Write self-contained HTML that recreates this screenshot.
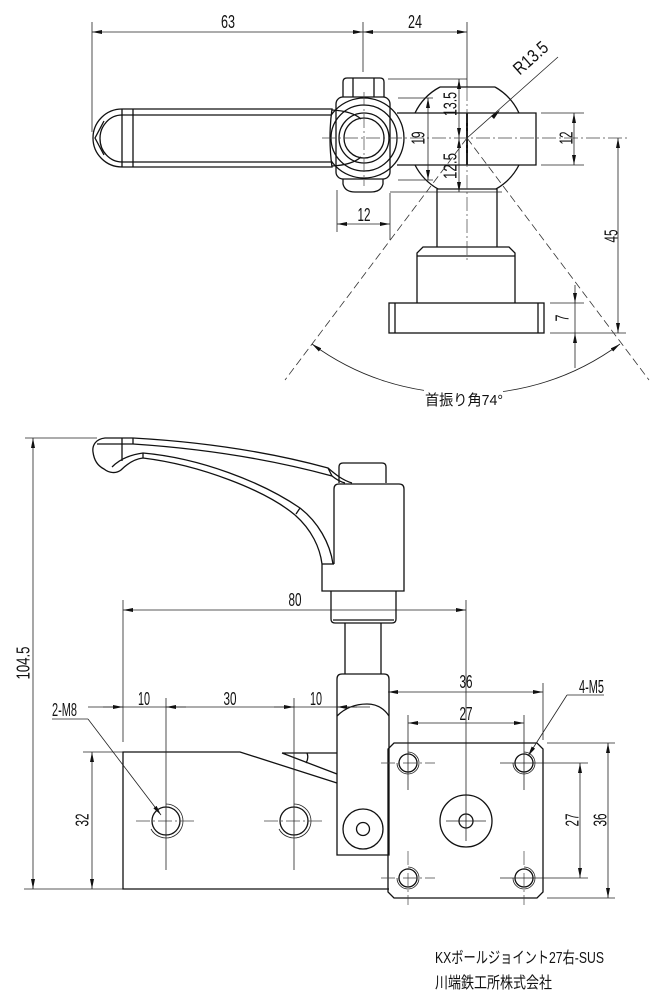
<!DOCTYPE html>
<html><head><meta charset="utf-8"><style>
html,body{margin:0;padding:0;background:#fff;}
svg{display:block;}
text{font-family:"Liberation Sans","Noto Sans CJK JP",sans-serif;fill:#111;}
.o{fill:none;stroke:#111;stroke-width:1.3;}
.ow{fill:#fff;stroke:#111;stroke-width:1.3;}
.d{fill:none;stroke:#222;stroke-width:0.8;}
.c{fill:none;stroke:#444;stroke-width:0.7;stroke-dasharray:14,3,2,3;}
.da{fill:none;stroke:#333;stroke-width:0.8;stroke-dasharray:8,4;}
.t{font-size:18px;}
</style></head><body>
<svg width="662" height="1000" viewBox="0 0 662 1000" xmlns="http://www.w3.org/2000/svg">
<defs>
<marker id="a" viewBox="0 0 10 4" refX="10" refY="2" markerWidth="10" markerHeight="4" markerUnits="userSpaceOnUse" orient="auto-start-reverse"><path d="M0,0 L10,2 L0,4 z" fill="#111"/></marker>
</defs>

<!-- ================= TOP VIEW ================= -->
<line class="d" x1="92" y1="22" x2="92" y2="132"/>
<line class="d" x1="363" y1="22" x2="363" y2="72"/>
<line class="d" x1="467" y1="22" x2="467" y2="87"/>
<line class="d" x1="92" y1="32" x2="363" y2="32" marker-start="url(#a)" marker-end="url(#a)"/>
<line class="d" x1="363" y1="32" x2="467" y2="32" marker-start="url(#a)" marker-end="url(#a)"/>
<text class="t" x="228" y="28" text-anchor="middle" textLength="14" lengthAdjust="spacingAndGlyphs">63</text>
<text class="t" x="415" y="28" text-anchor="middle" textLength="14" lengthAdjust="spacingAndGlyphs">24</text>

<!-- hub -->
<path class="o" d="M343,97 L343,82 Q343,78 347,78 L380,78 Q384,78 384,82 L384,97"/>
<line class="o" x1="353" y1="78" x2="353" y2="97"/>
<line class="o" x1="374" y1="78" x2="374" y2="97"/>
<rect class="o" x="336" y="97" width="54" height="82" rx="7"/>
<path class="o" d="M343,179 L343,184 Q345,192 355,192 L371,192 Q381,192 383,184 L383,179"/>
<circle class="o" cx="364" cy="138" r="40"/>
<circle class="o" cx="364" cy="138" r="33"/>
<circle class="o" cx="364" cy="138" r="25"/>
<circle class="o" cx="364" cy="138" r="20"/>

<!-- handle -->
<path class="ow" d="M332,109 L122,109 A29,29 0 0 0 122,167 L332,167 Q328,138 332,109 Z"/>
<line class="o" x1="122" y1="115" x2="331" y2="115"/>
<line class="o" x1="122" y1="162" x2="331" y2="162"/>
<line class="o" x1="122" y1="109" x2="122" y2="167"/>
<line class="o" x1="133" y1="109" x2="133" y2="167"/>
<path class="o" d="M122,115 A22,23.5 0 0 0 122,162"/>
<path class="o" d="M104,121 L95,138 L104,155"/>
<path class="o" d="M332,110 Q352,111 361,119"/>
<path class="o" d="M332,166 Q352,165 361,157"/>

<!-- rod and ball -->
<path class="o" d="M397,113 L536,113 L536,165 L397,165"/>
<line x1="467" y1="113" x2="467" y2="165" stroke="#111" stroke-width="2"/>
<path class="o" d="M440,87 L495,87"/>
<path class="o" d="M437,189 L497,189"/>
<path class="o" d="M440,87 A58,58 0 0 0 415,113"/>
<path class="o" d="M495,87 A58,58 0 0 1 519,113"/>
<path class="o" d="M415,165 A58,58 0 0 0 438,189"/>
<path class="o" d="M519,165 A58,58 0 0 1 496,189"/>

<!-- stem / base -->
<line class="o" x1="437" y1="189" x2="437" y2="247"/>
<line class="o" x1="497" y1="189" x2="497" y2="247"/>
<path class="o" d="M417,303 L417,253 L423,247 L509,247 L515,253 L515,303"/>
<line class="o" x1="417" y1="256" x2="515" y2="256"/>
<rect class="o" x="389" y="303" width="155" height="30"/>
<line class="o" x1="395" y1="303" x2="395" y2="333"/>
<line class="o" x1="538" y1="303" x2="538" y2="333"/>

<!-- centerlines -->
<line class="c" x1="322" y1="138" x2="628" y2="138"/>
<line class="c" x1="364" y1="92" x2="364" y2="186"/>
<line class="c" x1="467" y1="87" x2="467" y2="262"/>

<!-- extension lines -->
<line class="d" x1="388" y1="79" x2="467" y2="79"/>
<line class="d" x1="390" y1="192" x2="502" y2="192"/>
<line class="d" x1="398" y1="98" x2="433" y2="98"/>
<line class="d" x1="398" y1="180" x2="433" y2="180"/>
<line class="d" x1="541" y1="113" x2="584" y2="113"/>
<line class="d" x1="541" y1="165" x2="584" y2="165"/>
<line class="d" x1="337" y1="190" x2="337" y2="232"/>
<line class="d" x1="390" y1="193" x2="390" y2="240"/>
<line class="d" x1="550" y1="303" x2="584" y2="303"/>
<line class="d" x1="550" y1="333" x2="626" y2="333"/>

<!-- dims -->
<line class="d" x1="337" y1="224" x2="390" y2="224" marker-start="url(#a)" marker-end="url(#a)"/>
<text class="t" x="364" y="221" text-anchor="middle" textLength="13" lengthAdjust="spacingAndGlyphs">12</text>
<line class="d" x1="459" y1="79" x2="459" y2="138" marker-start="url(#a)" marker-end="url(#a)"/>
<line class="d" x1="459" y1="138" x2="459" y2="192" marker-start="url(#a)" marker-end="url(#a)"/>
<line class="d" x1="428" y1="98" x2="428" y2="180" marker-start="url(#a)" marker-end="url(#a)"/>
<line class="d" x1="574" y1="113" x2="574" y2="165" marker-start="url(#a)" marker-end="url(#a)"/>
<line class="d" x1="618" y1="138" x2="618" y2="333" marker-start="url(#a)" marker-end="url(#a)"/>
<line class="d" x1="575" y1="285" x2="575" y2="303" marker-end="url(#a)"/>
<line class="d" x1="575" y1="303" x2="575" y2="333"/>
<line class="d" x1="575" y1="368" x2="575" y2="333" marker-end="url(#a)"/>
<g transform="translate(418,138) rotate(-90)"><text class="t" x="0" y="6.5" text-anchor="middle" textLength="13" lengthAdjust="spacingAndGlyphs">19</text></g>
<g transform="translate(450,104) rotate(-90)"><text class="t" x="0" y="6.5" text-anchor="middle" textLength="24" lengthAdjust="spacingAndGlyphs">13.5</text></g>
<g transform="translate(450,166) rotate(-90)"><text class="t" x="0" y="6.5" text-anchor="middle" textLength="26" lengthAdjust="spacingAndGlyphs">12.5</text></g>
<g transform="translate(566,138) rotate(-90)"><text class="t" x="0" y="6.5" text-anchor="middle" textLength="13" lengthAdjust="spacingAndGlyphs">12</text></g>
<g transform="translate(611,236) rotate(-90)"><text class="t" x="0" y="6.5" text-anchor="middle" textLength="13" lengthAdjust="spacingAndGlyphs">45</text></g>
<g transform="translate(562,318) rotate(-90)"><text class="t" x="0" y="6.5" text-anchor="middle" textLength="7" lengthAdjust="spacingAndGlyphs">7</text></g>

<!-- R13.5 -->
<line class="d" x1="467" y1="138" x2="558" y2="57"/>
<path d="M500,110 L491,116 L494,119 Z" fill="#111"/>
<g transform="translate(536,64) rotate(-41.7)"><text class="t" x="0" y="-2" text-anchor="middle" textLength="40" lengthAdjust="spacingAndGlyphs">R13.5</text></g>

<!-- swing angle -->
<line class="da" x1="467" y1="138" x2="285" y2="380"/>
<line class="da" x1="467" y1="138" x2="649" y2="380"/>
<path class="d" d="M424,390.4 A257,257 0 0 1 312,344" marker-end="url(#a)"/>
<path class="d" d="M503,391.5 A257,257 0 0 0 620,344" marker-end="url(#a)"/>
<text x="464" y="405" text-anchor="middle" font-size="15" textLength="78" lengthAdjust="spacingAndGlyphs">首振り角74°</text>

<!-- ================= SIDE VIEW ================= -->
<line class="d" x1="25" y1="438" x2="97" y2="438"/>
<line class="d" x1="24" y1="889" x2="123" y2="889"/>
<line class="d" x1="33" y1="438" x2="33" y2="889" marker-start="url(#a)" marker-end="url(#a)"/>
<g transform="translate(23,663) rotate(-90)"><text class="t" x="0" y="6.5" text-anchor="middle" textLength="33" lengthAdjust="spacingAndGlyphs">104.5</text></g>

<!-- lever -->
<path class="o" d="M133,438 L105,438 C96,439 92,445 93,452 C94,460 98,466 104,469 C109,473 116,474 121,470 C127,464 134,459 143,458 C200,465 265,490 295,515 C312,530 320,548 322,564"/>
<path class="o" d="M112,467 C118,461 128,455 143,453 C200,458 262,482 300,508 C318,522 330,543 333,564"/>
<path class="o" d="M133,438 Q240,444 328,468 C335,474 342,480 352,483"/>
<path class="o" d="M97,444 L133,444 Q240,451 332,476 C337,480 341,482 345,483"/>
<line class="o" x1="122" y1="438" x2="122" y2="461"/>
<line class="o" x1="133" y1="438" x2="133" y2="444"/>
<line class="o" x1="143" y1="453" x2="143" y2="458"/>
<line class="o" x1="328" y1="468" x2="332" y2="476"/>
<line class="o" x1="296" y1="514" x2="300" y2="508"/>
<line class="o" x1="322" y1="564" x2="334" y2="564"/>

<!-- cap / body / collar / shaft -->
<path class="o" d="M339,483 L339,467 Q339,463 343,463 L382,463 Q386,463 386,467 L386,483"/>
<path class="o" d="M334,564 L334,489 Q334,484 339,484 L399,484 Q404,484 404,489 L404,591 L322,591 L322,564"/>
<path class="o" d="M331,591 L331,619 Q331,623 335,623 L392,623 Q396,623 396,619 L396,591"/>
<line class="o" x1="333" y1="620" x2="394" y2="620"/>
<line class="o" x1="345" y1="623" x2="345" y2="674"/>
<line class="o" x1="381" y1="623" x2="381" y2="674"/>

<!-- clamp body -->
<path class="o" d="M337,855 L337,679 Q337,674 342,674 L384,674 Q389,674 389,679 L389,855 Z"/>
<path class="o" d="M337,716 C345,708 355,704 367,704 C378,704 385,710 389,716"/>
<circle class="o" cx="363" cy="829" r="20"/>
<circle class="o" cx="363" cy="829" r="6.5"/>

<!-- base plate -->
<path class="o" d="M337,783 L240,752 L123,752 L123,889 L389,889"/>
<path class="o" d="M282,753 L337,753 M282,753 L337,774"/>
<path class="o" d="M307,753 Q309,758 306,763"/>

<!-- holes -->
<circle class="o" cx="166" cy="821" r="14"/>
<path class="d" d="M166,804 A17,17 0 1 1 151,829"/>
<circle class="o" cx="294" cy="821" r="14"/>
<path class="d" d="M294,804 A17,17 0 1 1 279,829"/>
<line class="c" x1="136" y1="821" x2="196" y2="821"/>
<line class="c" x1="264" y1="821" x2="324" y2="821"/>
<line class="d" x1="166" y1="698" x2="166" y2="870"/>
<line class="d" x1="294" y1="698" x2="294" y2="870"/>

<!-- 80 -->
<line class="d" x1="123" y1="600" x2="123" y2="742"/>
<line class="d" x1="466" y1="600" x2="466" y2="795"/>
<line class="d" x1="123" y1="610" x2="466" y2="610" marker-start="url(#a)" marker-end="url(#a)"/>
<text class="t" x="295" y="606" text-anchor="middle" textLength="13" lengthAdjust="spacingAndGlyphs">80</text>

<!-- 10 30 10 -->
<line class="d" x1="88" y1="707" x2="370" y2="707"/>
<line class="d" x1="103" y1="707" x2="123" y2="707" marker-end="url(#a)"/>
<line class="d" x1="186" y1="707" x2="166" y2="707" marker-end="url(#a)"/>
<line class="d" x1="274" y1="707" x2="294" y2="707" marker-end="url(#a)"/>
<line class="d" x1="357" y1="707" x2="337" y2="707" marker-end="url(#a)"/>
<text class="t" x="144" y="705" text-anchor="middle" textLength="12" lengthAdjust="spacingAndGlyphs">10</text>
<text class="t" x="230" y="705" text-anchor="middle" textLength="13" lengthAdjust="spacingAndGlyphs">30</text>
<text class="t" x="316" y="705" text-anchor="middle" textLength="12" lengthAdjust="spacingAndGlyphs">10</text>

<!-- 2-M8 -->
<text class="t" x="52" y="716" textLength="25" lengthAdjust="spacingAndGlyphs">2-M8</text>
<line class="d" x1="52" y1="719" x2="88" y2="719"/>
<line class="d" x1="88" y1="719" x2="161" y2="815" marker-end="url(#a)"/>

<!-- 32 -->
<line class="d" x1="83" y1="752" x2="123" y2="752"/>
<line class="d" x1="92" y1="752" x2="92" y2="889" marker-start="url(#a)" marker-end="url(#a)"/>
<g transform="translate(82,820) rotate(-90)"><text class="t" x="0" y="6.5" text-anchor="middle" textLength="13" lengthAdjust="spacingAndGlyphs">32</text></g>

<!-- right plate -->
<path class="o" d="M394,743 L537,743 L543,749 L543,892 L537,898 L394,898 L388,892 L388,749 Z"/>
<g>
<circle class="o" cx="408" cy="763" r="9"/><path class="d" d="M408,752 A11,11 0 1 1 397,763"/>
<circle class="o" cx="524" cy="763" r="9"/><path class="d" d="M524,752 A11,11 0 1 1 513,763"/>
<circle class="o" cx="408" cy="878" r="9"/><path class="d" d="M408,867 A11,11 0 1 1 397,878"/>
<circle class="o" cx="524" cy="878" r="9"/><path class="d" d="M524,867 A11,11 0 1 1 513,878"/>
</g>
<line class="c" x1="381" y1="763" x2="435" y2="763"/>
<line class="c" x1="381" y1="878" x2="435" y2="878"/>
<line class="c" x1="408" y1="851" x2="408" y2="905"/>
<line class="c" x1="524" y1="851" x2="524" y2="905"/>
<line class="d" x1="408" y1="715" x2="408" y2="790"/>
<line class="d" x1="524" y1="715" x2="524" y2="790"/>
<line class="d" x1="500" y1="763" x2="588" y2="763"/>
<line class="d" x1="500" y1="878" x2="588" y2="878"/>
<circle class="o" cx="466" cy="821" r="26"/>
<circle class="o" cx="466" cy="821" r="7"/>
<line class="d" x1="446" y1="821" x2="486" y2="821"/>
<line class="d" x1="466" y1="795" x2="466" y2="841"/>

<!-- 36 / 27 horizontal -->
<line class="d" x1="543" y1="683" x2="543" y2="740"/>
<line class="d" x1="388" y1="692" x2="543" y2="692" marker-start="url(#a)" marker-end="url(#a)"/>
<line class="d" x1="408" y1="723" x2="524" y2="723" marker-start="url(#a)" marker-end="url(#a)"/>
<text class="t" x="466" y="688" text-anchor="middle" textLength="13" lengthAdjust="spacingAndGlyphs">36</text>
<text class="t" x="466" y="720" text-anchor="middle" textLength="13" lengthAdjust="spacingAndGlyphs">27</text>

<!-- 27 / 36 vertical -->
<line class="d" x1="547" y1="743" x2="615" y2="743"/>
<line class="d" x1="547" y1="898" x2="615" y2="898"/>
<line class="d" x1="580" y1="763" x2="580" y2="878" marker-start="url(#a)" marker-end="url(#a)"/>
<line class="d" x1="608" y1="743" x2="608" y2="898" marker-start="url(#a)" marker-end="url(#a)"/>
<g transform="translate(572,820) rotate(-90)"><text class="t" x="0" y="6.5" text-anchor="middle" textLength="13" lengthAdjust="spacingAndGlyphs">27</text></g>
<g transform="translate(600,820) rotate(-90)"><text class="t" x="0" y="6.5" text-anchor="middle" textLength="13" lengthAdjust="spacingAndGlyphs">36</text></g>

<!-- 4-M5 -->
<text class="t" x="579" y="693" textLength="25" lengthAdjust="spacingAndGlyphs">4-M5</text>
<line class="d" x1="567" y1="695" x2="604" y2="695"/>
<line class="d" x1="567" y1="695" x2="528" y2="756" marker-end="url(#a)"/>

<!-- title -->
<text x="435" y="963" font-size="16" textLength="169" lengthAdjust="spacingAndGlyphs">KXボールジョイント27右-SUS</text>
<text x="435" y="988" font-size="16" textLength="117" lengthAdjust="spacingAndGlyphs">川端鉄工所株式会社</text>
</svg>
</body></html>
